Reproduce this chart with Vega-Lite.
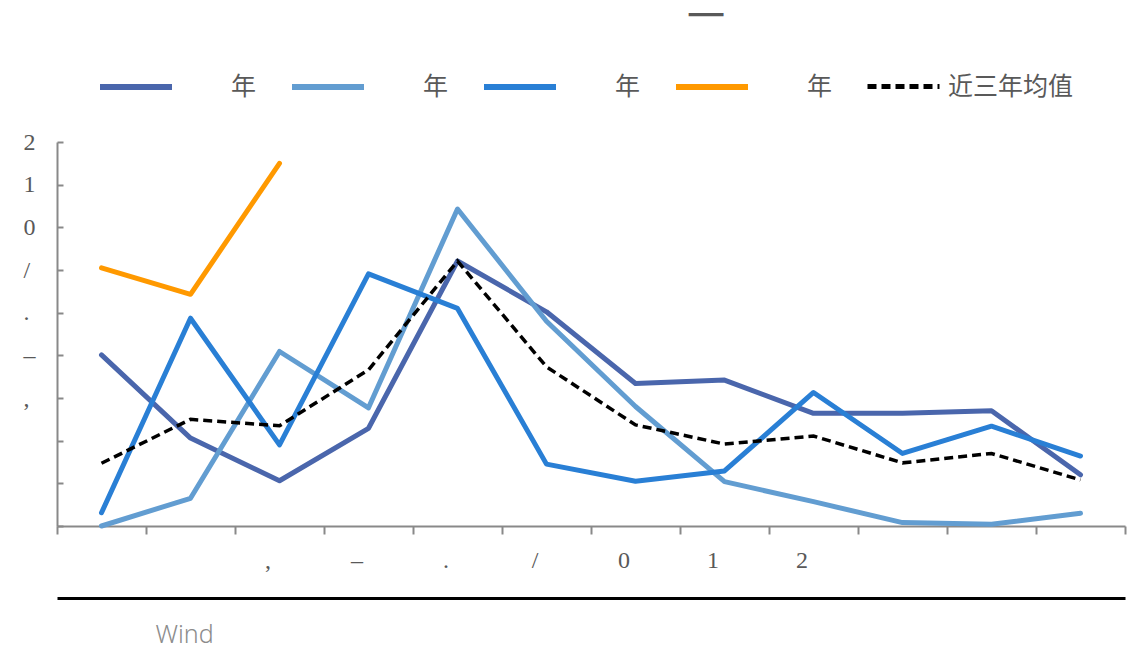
{
  "$schema": "https://vega.github.io/schema/vega-lite/v6.json",
  "width": 1068,
  "height": 384,
  "autosize": {"type": "none"},
  "padding": {"left": 57, "top": 142, "right": 23, "bottom": 123},
  "background": "white",
  "title": {"text": "一", "font": "Noto Sans CJK SC", "fontSize": 38, "fontWeight": "normal", "color": "#595959", "anchor": "middle", "frame": "group", "dx": 115, "dy": -1, "offset": 10},
  "config": {"view": {"stroke": null}},
  "data": {"values": [
    {"m":1,"s":"s1","v":4.01},{"m":2,"s":"s1","v":2.06},{"m":3,"s":"s1","v":1.06},{"m":4,"s":"s1","v":2.29},{"m":5,"s":"s1","v":6.21},{"m":6,"s":"s1","v":5.02},{"m":7,"s":"s1","v":3.34},{"m":8,"s":"s1","v":3.42},{"m":9,"s":"s1","v":2.64},{"m":10,"s":"s1","v":2.64},{"m":11,"s":"s1","v":2.70},{"m":12,"s":"s1","v":1.20},
    {"m":1,"s":"s2","v":0.0},{"m":2,"s":"s2","v":0.65},{"m":3,"s":"s2","v":4.09},{"m":4,"s":"s2","v":2.77},{"m":5,"s":"s2","v":7.43},{"m":6,"s":"s2","v":4.8},{"m":7,"s":"s2","v":2.80},{"m":8,"s":"s2","v":1.04},{"m":9,"s":"s2","v":0.57},{"m":10,"s":"s2","v":0.08},{"m":11,"s":"s2","v":0.04},{"m":12,"s":"s2","v":0.30},
    {"m":1,"s":"s3","v":0.31},{"m":2,"s":"s3","v":4.87},{"m":3,"s":"s3","v":1.90},{"m":4,"s":"s3","v":5.91},{"m":5,"s":"s3","v":5.10},{"m":6,"s":"s3","v":1.45},{"m":7,"s":"s3","v":1.05},{"m":8,"s":"s3","v":1.29},{"m":9,"s":"s3","v":3.13},{"m":10,"s":"s3","v":1.70},{"m":11,"s":"s3","v":2.34},{"m":12,"s":"s3","v":1.64},
    {"m":1,"s":"s4","v":6.05},{"m":2,"s":"s4","v":5.43},{"m":3,"s":"s4","v":8.50},
    {"m":1,"s":"avg","v":1.47},{"m":2,"s":"avg","v":2.50},{"m":3,"s":"avg","v":2.35},{"m":4,"s":"avg","v":3.66},{"m":5,"s":"avg","v":6.21},{"m":6,"s":"avg","v":3.73},{"m":7,"s":"avg","v":2.37},{"m":8,"s":"avg","v":1.92},{"m":9,"s":"avg","v":2.11},{"m":10,"s":"avg","v":1.48},{"m":11,"s":"avg","v":1.70},{"m":12,"s":"avg","v":1.08}
  ]},
  "encoding": {
    "y": {"field": "v", "type": "quantitative",
      "scale": {"domain": [0, 9], "nice": false, "zero": true},
      "axis": {"title": null, "values": [0,1,2,3,4,5,6,7,8,9], "grid": false,
        "labelExpr": "datum.value >= 3 ? substring(',–./012', datum.value - 3, datum.value - 2) : ''",
        "labelFont": "Liberation Serif", "labelFontSize": 24, "labelColor": "#595959",
        "labelAlign": "left", "labelBaseline": "middle", "labelPadding": 40,
        "tickSize": -6, "tickColor": "#898989", "tickWidth": 2,
        "domainColor": "#898989", "domainWidth": 2}}
  },
  "layer": [
    {
      "transform": [{"filter": "datum.s != 'avg'"}],
      "mark": {"type": "line", "strokeWidth": 5, "strokeCap": "round", "strokeJoin": "round"},
      "encoding": {
        "x": {"field": "m", "type": "ordinal", "sort": "ascending",
          "scale": {"paddingInner": 0, "paddingOuter": 0},
          "axis": {"title": null, "grid": false, "labelAngle": 0,
            "labelExpr": "datum.value >= 3 && datum.value <= 9 ? substring(',–./012', datum.value - 3, datum.value - 2) : ''",
            "labelFont": "Liberation Serif", "labelFontSize": 24, "labelColor": "#595959",
            "labelOffset": -12, "labelPadding": 14,
            "tickBand": "extent", "tickSize": 8, "tickColor": "#898989", "tickWidth": 2,
            "domainColor": "#898989", "domainWidth": 2}},
        "color": {"field": "s", "type": "nominal",
          "scale": {"domain": ["s1","s2","s3","s4"], "range": ["#4A66AC","#629DD1","#297FD5","#FF9900"]},
          "legend": {"title": null, "orient": "none", "legendX": 40, "legendY": -94, "direction": "horizontal", "columns": 4,
            "symbolType": "stroke", "symbolSize": 5184, "symbolStrokeWidth": 6,
            "labelFont": "Noto Sans CJK SC", "labelFontSize": 25, "labelColor": "#595959", "labelOffset": 56,
            "columnPadding": 23, "padding": 0, "labelLimit": 0,
            "labelExpr": "'年'"}}
      }
    },
    {
      "transform": [{"filter": "datum.s == 'avg'"}],
      "mark": {"type": "line", "strokeWidth": 3.5, "color": "#000000"},
      "encoding": {
        "x": {"field": "m", "type": "ordinal", "sort": "ascending",
          "axis": {"orient": "bottom", "offset": 72, "labels": false, "ticks": false, "grid": false,
            "domainColor": "#000000", "domainWidth": 3,
            "title": "Wind", "titleFont": "Noto Sans", "titleFontSize": 25, "titleFontWeight": 300, "titleColor": "#8c8c8c",
            "titleAnchor": "start", "titleAlign": "left", "titleX": 98, "titleY": 44, "titleBaseline": "alphabetic"}},
        "strokeDash": {"field": "s", "type": "nominal",
          "scale": {"domain": ["avg"], "range": [[9,5]]},
          "legend": {"title": null, "orient": "none", "legendX": 808, "legendY": -94, "direction": "horizontal",
            "symbolType": "stroke", "symbolSize": 5184, "symbolStrokeWidth": 5, "symbolStrokeColor": "#000000",
            "labelFont": "Noto Sans CJK SC", "labelFontSize": 25, "labelColor": "#595959", "labelOffset": 6,
            "padding": 0, "labelLimit": 0,
            "labelExpr": "'近三年均值'"}}
      }
    }
  ],
  "resolve": {"axis": {"x": "independent"}}
}
